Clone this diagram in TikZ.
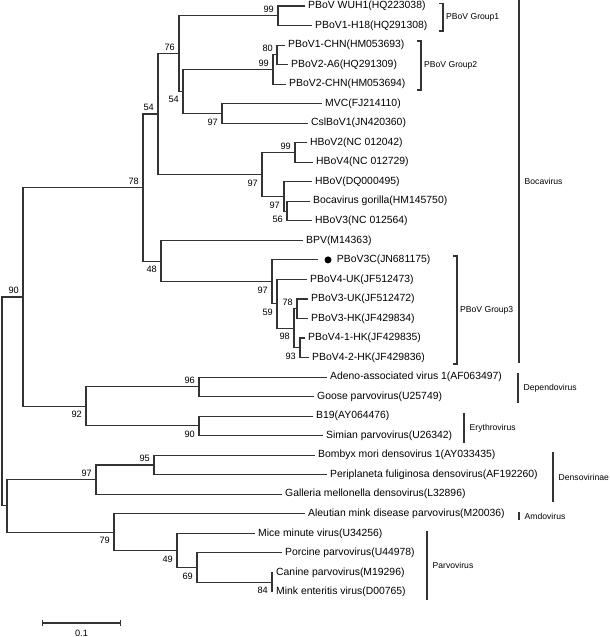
\documentclass[tikz,border=0pt]{standalone}
\usepackage{fontspec}
\setmainfont{Liberation Sans}
\usetikzlibrary{arrows.meta,positioning,calc}
\tikzset{
leaf/.style = {anchor=west, inner sep=3pt, font=\fontsize{10.4}{12}\selectfont},
boot/.style = {inner sep=1pt, xshift=-3pt, font=\fontsize{9.2}{9}\selectfont},
bootup/.style = {boot, anchor=south east, yshift=2pt},
bootdown/.style = {boot, anchor=north east, yshift=-4pt},
clade/.style = {anchor=west, inner sep=0pt, font=\fontsize{8.6}{9}\selectfont},
branch/.style = {draw=black!80, line width=1.1pt},
dot/.style = {circle, fill=black, inner sep=0pt, minimum size=7pt}
}
\begin{document}
\begin{tikzpicture}[x=1pt, y=-19.53pt]
  \useasboundingbox (0,0.6928) rectangle (609,33.309);

  % taxa, one per row
  \foreach \r/\t/\txt in {1/305/PBoV WUH1(HQ223038), 2/312/PBoV1-H18(HQ291308),
      3/285/PBoV1-CHN(HM053693), 4/288/PBoV2-A6(HQ291309), 5/286/PBoV2-CHN(HM053694),
      6/322/MVC(FJ214110), 7/308/CslBoV1(JN420360), 8/307/HBoV2(NC 012042),
      9/313/HBoV4(NC 012729), 10/312/HBoV(DQ000495), 11/310/Bocavirus gorilla(HM145750),
      12/312/HBoV3(NC 012564), 13/303/BPV(M14363), 15/307/PBoV4-UK(JF512473),
      16/308/PBoV3-UK(JF512472), 17/308/PBoV3-HK(JF429834), 18/305/PBoV4-1-HK(JF429835),
      19/309/PBoV4-2-HK(JF429836), 20/327/Adeno-associated virus 1(AF063497),
      21/314/Goose parvovirus(U25749), 22/313/B19(AY064476), 23/323/Simian parvovirus(U26342),
      24/315/Bombyx mori densovirus 1(AY033435), 25/327/Periplaneta fuliginosa densovirus(AF192260),
      26/282/Galleria mellonella densovirus(L32896), 27/305/Aleutian mink disease parvovirus(M20036),
      28/255/Mice minute virus(U34256), 29/282/Porcine parvovirus(U44978),
      30/273/Canine parvovirus(M19296), 31/273/Mink enteritis virus(D00765)}
    \node [leaf] (l\r) at (\t,\r) {\txt};

  % the new strain
  \coordinate (t14) at (318,14);
  \node [dot] (d14) at (328,14) {};
  \node [leaf, right=2pt of d14] (l14) {PBoV3C(JN681175)};

  % inner nodes with bootstrap values
  \foreach \n/\x/\y/\b/\s in {n99a/278/1.5/99/up, n80/277/3.5/80/up, n99b/273/4.25/99/up,
      n97a/222/6.5/97/down, n54a/183/5.375/54/down, n76/179/3.4375/76/up,
      n99c/295/8.5/99/up, n56/287/11.5/56/down, n97c/284/10.75/97/down,
      n97b/262/9.625/97/down, n54b/158/6.53125/54/up, n78g/297/16.5/78/up,
      n93/300/18.5/93/down, n98/294/17.5/98/down, n59/277/16.25/59/down,
      n97d/272/15.125/97/down, n48/161/14.0625/48/down, n78/143/10.297/78/up,
      n96/199/20.5/96/up, n90e/199/22.5/90/down, n92/86/21.5/92/down,
      n90/23/15.898/90/up, n95/154/24.5/95/up, n97e/96/25.25/97/up,
      n84/272/30.5/84/down, n69/197/29.75/69/down, n49/177/28.875/49/down,
      n79/114/27.9375/79/down}
  {
    \coordinate (\n) at (\x,\y);
    \node [boot\s] (b\n) at (\n) {\b};
  }
  \coordinate (nX) at (7,26.594);
  \coordinate (root) at (2,21.246);

  % branches
  \foreach \p/\c in {n99a/l1, n99a/l2, n80/l3, n80/l4, n99b/n80, n99b/l5,
      n97a/l6, n97a/l7, n54a/n99b, n54a/n97a, n76/n99a, n76/n54a,
      n99c/l8, n99c/l9, n56/l11, n56/l12, n97c/l10, n97c/n56,
      n97b/n99c, n97b/n97c, n54b/n76, n54b/n97b,
      n78g/l16, n78g/l17, n93/l18, n93/l19, n98/n78g, n98/n93,
      n59/l15, n59/n98, n97d/t14, n97d/n59, n48/l13, n48/n97d,
      n78/n54b, n78/n48, n96/l20, n96/l21, n90e/l22, n90e/l23,
      n92/n96, n92/n90e, n90/n78, n90/n92,
      n95/l24, n95/l25, n97e/n95, n97e/l26,
      n84/l30, n84/l31, n69/l29, n69/n84, n49/l28, n49/n69,
      n79/l27, n79/n49, nX/n97e, nX/n79, root/n90, root/nX}
    \draw [branch] (\p) |- (\c);

  % PBoV groups
  \foreach \g/\x/\a/\b/\txt in {g1/443/0.85/2.28/PBoV Group1, g2/421/2.79/5.30/PBoV Group2,
      g3/457/13.80/19.33/PBoV Group3}
  {
    \coordinate (\g a) at (\x,\a);
    \coordinate (\g b) at (\x,\b);
    \draw [branch] ([xshift=-4pt]\g a) -- (\g a) -- (\g b) -- ([xshift=-4pt]\g b);
    \node [clade, xshift=3pt] (\g l) at ($(\g a)!.5!(\g b)$) {\txt};
  }

  % genera
  \foreach \g/\x/\a/\b/\txt in {boc/519/0.6928/19.28/Bocavirus, dep/518/19.79/21.33/Dependovirus,
      ery/464/21.84/23.38/Erythrovirus, den/553/23.84/26.40/Densovirinae,
      amd/519/26.91/27.32/Amdovirus, par/427/27.88/31.41/Parvovirus}
  {
    \coordinate (\g a) at (\x,\a);
    \coordinate (\g b) at (\x,\b);
    \draw [branch] (\g a) -- (\g b);
    \node [clade, xshift=5.5pt] (\g l) at ($(\g a)!.5!(\g b)$) {\txt};
  }

  % scale bar
  \coordinate (sa) at (42,32.59);
  \coordinate (sb) at (121,32.59);
  \draw [branch, {Bar[width=6pt]}-{Bar[width=6pt]}] (sa) -- (sb);
  \node [font=\fontsize{9.2}{9}\selectfont] (sl) at (81.5,33.1) {0.1};
\end{tikzpicture}
\end{document}
